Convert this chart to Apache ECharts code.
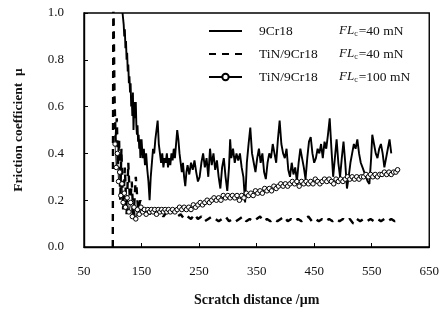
<!DOCTYPE html>
<html>
<head>
<meta charset="utf-8">
<script src="https://cdn.jsdelivr.net/npm/echarts@6/dist/echarts.min.js"></script>
<style>
  html, body { margin: 0; padding: 0; background: #fff; }
  #chart { width: 442px; height: 312px; }
</style>
</head>
<body>
<div id="chart"></div>
<script>
// x tick values (scratch distance, um)
const xTicks = [50, 150, 250, 350, 450, 550, 650]

// 9Cr18, FLc = 40 mN  [distance, mu]
const crData = [
  [117, 1.00], [119, 0.95], [120, 0.90], [121, 0.93], [122, 0.85], [123, 0.88], [124, 0.80], [125, 0.83],
  [126, 0.75], [127, 0.78], [128, 0.70], [129, 0.73], [130, 0.66], [131, 0.70], [132, 0.60], [133, 0.64],
  [134, 0.56], [135, 0.66], [136, 0.50], [137, 0.58], [138, 0.62], [139, 0.55], [140, 0.62], [141, 0.52],
  [142, 0.48], [143, 0.52], [144, 0.45], [145, 0.48], [146, 0.42], [147, 0.46], [148, 0.38], [149, 0.44],
  [150, 0.46], [152, 0.38], [154, 0.42], [156, 0.35], [158, 0.40], [160, 0.33], [162, 0.28], [164, 0.20],
  [166, 0.30], [168, 0.36], [170, 0.42], [172, 0.40], [174, 0.46], [176, 0.50], [178, 0.54], [180, 0.44],
  [182, 0.40], [184, 0.36], [186, 0.40], [188, 0.34], [190, 0.38], [192, 0.36], [194, 0.40], [196, 0.34],
  [198, 0.38], [200, 0.35], [202, 0.40], [204, 0.37], [206, 0.42], [208, 0.38], [210, 0.44], [212, 0.50],
  [214, 0.46], [216, 0.40], [218, 0.36], [220, 0.32], [222, 0.36], [224, 0.30], [226, 0.26], [228, 0.32],
  [230, 0.35], [233, 0.31], [236, 0.36], [239, 0.33], [242, 0.37], [245, 0.32], [248, 0.28], [251, 0.30],
  [254, 0.36], [257, 0.40], [260, 0.34], [263, 0.38], [266, 0.30], [269, 0.42], [272, 0.35], [275, 0.40],
  [278, 0.33], [281, 0.37], [284, 0.30], [287, 0.25], [290, 0.34], [293, 0.38], [296, 0.30], [299, 0.24],
  [302, 0.34], [304, 0.46], [306, 0.38], [309, 0.42], [312, 0.36], [315, 0.40], [318, 0.37], [321, 0.40],
  [324, 0.34], [327, 0.30], [330, 0.19], [333, 0.36], [336, 0.44], [339, 0.51], [342, 0.40], [345, 0.36],
  [348, 0.32], [351, 0.38], [354, 0.42], [357, 0.36], [360, 0.40], [363, 0.32], [366, 0.29], [369, 0.36],
  [372, 0.40], [375, 0.38], [378, 0.44], [381, 0.40], [384, 0.36], [387, 0.46], [390, 0.54], [393, 0.44],
  [396, 0.40], [399, 0.38], [402, 0.42], [405, 0.33], [408, 0.30], [411, 0.36], [414, 0.31], [417, 0.34],
  [420, 0.28], [423, 0.36], [426, 0.42], [429, 0.38], [432, 0.34], [435, 0.29], [438, 0.38], [441, 0.45],
  [444, 0.47], [447, 0.40], [450, 0.36], [453, 0.38], [456, 0.42], [459, 0.40], [462, 0.44], [465, 0.38],
  [468, 0.45], [471, 0.42], [474, 0.48], [477, 0.55], [480, 0.42], [483, 0.30], [486, 0.38], [489, 0.46],
  [492, 0.36], [495, 0.30], [498, 0.38], [501, 0.45], [504, 0.36], [507, 0.25], [510, 0.30], [513, 0.36],
  [516, 0.40], [519, 0.44], [522, 0.42], [525, 0.46], [528, 0.40], [531, 0.36], [534, 0.34], [537, 0.32],
  [540, 0.30], [543, 0.28], [546, 0.27], [549, 0.38], [551, 0.48], [554, 0.44], [557, 0.40], [560, 0.38],
  [563, 0.42], [566, 0.44], [569, 0.40], [572, 0.34], [575, 0.38], [578, 0.42], [581, 0.46], [584, 0.40]
]

// TiN/9Cr18, FLc = 40 mN
const tin40Data = [
  [100, 0.00], [101, 1.10], [103, 0.65], [105, 0.45], [107, 0.55], [109, 0.35], [111, 0.46], [113, 0.20],
  [115, 0.42], [118, 0.16], [121, 0.34], [124, 0.14], [127, 0.36], [130, 0.18], [133, 0.28], [136, 0.12],
  [140, 0.30], [144, 0.16], [148, 0.20], [152, 0.15], [158, 0.17], [164, 0.14], [170, 0.16], [176, 0.14],
  [182, 0.15], [188, 0.13], [194, 0.15], [200, 0.14], [206, 0.16], [212, 0.13], [218, 0.14], [224, 0.12],
  [230, 0.13], [236, 0.12], [242, 0.14], [248, 0.12], [254, 0.13], [260, 0.11], [266, 0.12], [272, 0.13],
  [278, 0.12], [284, 0.11], [290, 0.12], [296, 0.13], [302, 0.11], [308, 0.12], [314, 0.11], [320, 0.12],
  [326, 0.13], [332, 0.11], [338, 0.12], [344, 0.11], [350, 0.12], [356, 0.13], [362, 0.11], [368, 0.12],
  [374, 0.11], [380, 0.12], [386, 0.11], [392, 0.12], [398, 0.13], [404, 0.11], [410, 0.12], [416, 0.11],
  [422, 0.12], [428, 0.11], [434, 0.12], [440, 0.13], [446, 0.11], [452, 0.12], [458, 0.11], [464, 0.12],
  [470, 0.11], [476, 0.12], [482, 0.11], [488, 0.12], [494, 0.11], [500, 0.12], [506, 0.11], [512, 0.12],
  [518, 0.10], [524, 0.12], [530, 0.11], [536, 0.12], [542, 0.11], [548, 0.12], [554, 0.11], [560, 0.12],
  [566, 0.11], [572, 0.12], [578, 0.11], [584, 0.12], [590, 0.11], [596, 0.12]
]

// TiN/9Cr18, FLc = 100 mN
const tin100Data = [
  [104, 0.44], [106, 0.34], [108, 0.40], [110, 0.28], [112, 0.32], [114, 0.22], [116, 0.27], [118, 0.19],
  [120, 0.23], [122, 0.17], [125, 0.21], [128, 0.15], [131, 0.19], [134, 0.13], [137, 0.17], [140, 0.12],
  [143, 0.16], [146, 0.14], [149, 0.17], [152, 0.15], [155, 0.16], [158, 0.14], [161, 0.16], [164, 0.15],
  [167, 0.16], [170, 0.15], [173, 0.16], [176, 0.14], [179, 0.16], [182, 0.15], [185, 0.16], [188, 0.15],
  [191, 0.16], [194, 0.15], [197, 0.16], [200, 0.15], [204, 0.16], [208, 0.15], [212, 0.16], [216, 0.17],
  [220, 0.16], [224, 0.17], [228, 0.16], [232, 0.17], [236, 0.16], [240, 0.18], [244, 0.17], [248, 0.18],
  [252, 0.19], [256, 0.18], [260, 0.19], [264, 0.20], [268, 0.19], [272, 0.20], [276, 0.21], [280, 0.20],
  [284, 0.21], [288, 0.20], [292, 0.22], [296, 0.21], [300, 0.22], [304, 0.21], [308, 0.22], [312, 0.21],
  [316, 0.22], [320, 0.20], [324, 0.22], [328, 0.21], [332, 0.23], [336, 0.22], [340, 0.23], [344, 0.22],
  [348, 0.24], [352, 0.23], [356, 0.24], [360, 0.23], [364, 0.25], [368, 0.24], [372, 0.25], [376, 0.24],
  [380, 0.26], [384, 0.25], [388, 0.26], [392, 0.27], [396, 0.26], [400, 0.27], [404, 0.26], [408, 0.27],
  [412, 0.28], [416, 0.27], [420, 0.28], [424, 0.26], [428, 0.28], [432, 0.27], [436, 0.28], [440, 0.27],
  [444, 0.28], [448, 0.27], [452, 0.29], [456, 0.28], [460, 0.27], [464, 0.28], [468, 0.29], [472, 0.28],
  [476, 0.29], [480, 0.28], [484, 0.27], [488, 0.29], [492, 0.28], [496, 0.29], [500, 0.28], [504, 0.29],
  [508, 0.30], [512, 0.29], [516, 0.30], [520, 0.29], [524, 0.30], [528, 0.29], [532, 0.30], [536, 0.30],
  [540, 0.31], [544, 0.30], [548, 0.31], [552, 0.30], [556, 0.31], [560, 0.30], [564, 0.31], [568, 0.31],
  [572, 0.32], [576, 0.31], [580, 0.32], [584, 0.31], [588, 0.32], [592, 0.32], [595, 0.33]
]

const seriesNames = ['9Cr18', 'TiN/9Cr18 ', 'TiN/9Cr18  ']
const legendLoads = ['=40 mN', '=40 mN', '=100 mN']

const serif = '"Liberation Serif", "DejaVu Serif", serif'

const chart = echarts.init(document.getElementById('chart'), null, { renderer: 'canvas' })

const option = {
  animation: false,
  backgroundColor: '#fff',
  grid: {
    left: 84,
    right: 11,
    top: 13,
    bottom: 63,
    show: true,
    borderColor: '#000',
    borderWidth: 1.4
  },
  legend: {
    orient: 'vertical',
    left: 208,
    top: 24,
    padding: 0,
    itemWidth: 33,
    itemHeight: 8,
    itemGap: 9,
    // plain line icons for the first two, line with circle for the last
    data: [
      { name: seriesNames[0], itemStyle: { opacity: 0 } },
      { name: seriesNames[1], itemStyle: { opacity: 0 } },
      { name: seriesNames[2] }
    ],
    textStyle: {
      fontFamily: serif,
      fontSize: 13.5,
      color: '#111',
      rich: {
        n: { fontFamily: serif, fontSize: 13.5, color: '#111', width: 80, padding: [0, 0, 0, 12] },
        f: { fontFamily: serif, fontSize: 13, fontStyle: 'italic', color: '#111' },
        s: { fontFamily: serif, fontSize: 8, color: '#111', padding: [6, 1, 0, 0] },
        v: { fontFamily: serif, fontSize: 13.5, color: '#111' }
      }
    },
    formatter: name => `{n|${name.trim()}}{f|FL}{s|c}{v|${legendLoads[seriesNames.indexOf(name)]}}`
  },
  xAxis: {
    type: 'value',
    min: 50,
    max: 650,
    name: 'Scratch distance /\u03bcm',
    nameLocation: 'middle',
    nameGap: 46,
    nameTextStyle: { fontFamily: serif, fontSize: 14, fontWeight: 'bold', color: '#111' },
    axisLine: { show: true, lineStyle: { color: '#000', width: 1.4 } },
    axisTick: { show: true, inside: true, length: 4, customValues: xTicks, lineStyle: { color: '#000' } },
    axisLabel: { customValues: xTicks, margin: 18, fontFamily: serif, fontSize: 13, color: '#111' },
    splitLine: { show: false }
  },
  yAxis: {
    type: 'value',
    min: 0,
    max: 1,
    interval: 0.2,
    name: 'Friction coefficient  \u03bc',
    nameLocation: 'middle',
    nameGap: 58,
    nameTextStyle: { fontFamily: serif, fontSize: 13.5, fontWeight: 'bold', color: '#111' },
    axisLine: { show: true, lineStyle: { color: '#000', width: 1.4 } },
    axisTick: { show: true, inside: true, length: 4, lineStyle: { color: '#000' } },
    axisLabel: {
      margin: 20,
      fontFamily: serif,
      fontSize: 13,
      color: '#111',
      formatter: v => v.toFixed(1)
    },
    splitLine: { show: false }
  },
  series: [
    {
      name: seriesNames[0],
      type: 'line',
      data: crData,
      symbol: 'none',
      clip: true,
      lineStyle: { color: '#000', width: 1.9 },
      itemStyle: { color: '#000' }
    },
    {
      name: seriesNames[1],
      type: 'line',
      data: tin40Data,
      symbol: 'none',
      clip: true,
      lineStyle: { color: '#000', width: 2.4, type: [7, 6] },
      itemStyle: { color: '#000' }
    },
    {
      name: seriesNames[2],
      type: 'line',
      data: tin100Data,
      symbol: 'circle',
      symbolSize: 4.5,
      showSymbol: true,
      clip: true,
      lineStyle: { color: '#000', width: 0.8 },
      itemStyle: { color: '#fff', borderColor: '#000', borderWidth: 1 }
    }
  ]
}

chart.setOption(option)
</script>
</body>
</html>
